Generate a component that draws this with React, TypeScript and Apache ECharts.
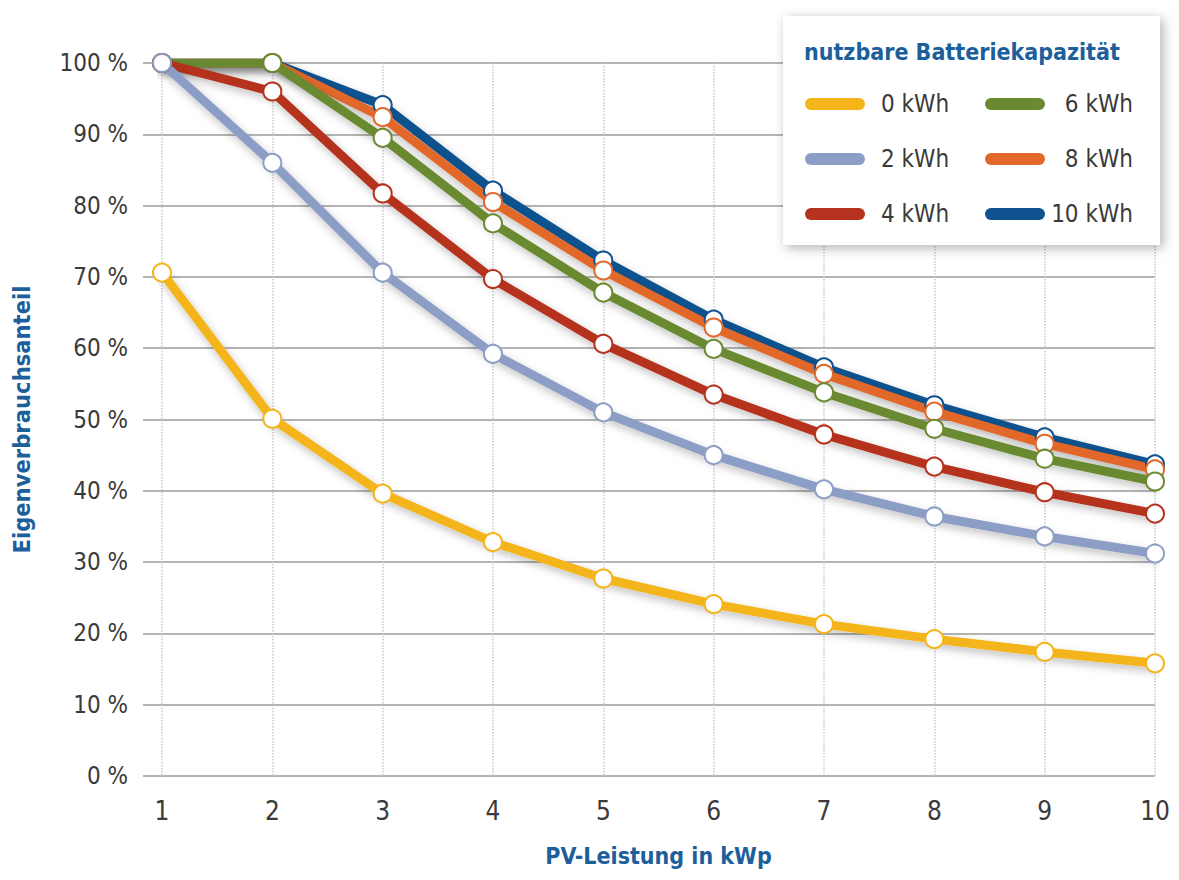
import React, { useEffect, useRef } from "react";
import * as echarts from "echarts";

const pvPower = [1, 2, 3, 4, 5, 6, 7, 8, 9, 10];
const yTicks = [0, 10, 20, 30, 40, 50, 60, 70, 80, 90, 100];

const cap0 = [70.6, 50.1, 39.6, 32.8, 27.7, 24.1, 21.3, 19.2, 17.4, 15.8];
const cap2 = [100, 86, 70.6, 59.2, 51, 45, 40.2, 36.4, 33.6, 31.2];
const cap4 = [100, 96, 81.7, 69.7, 60.6, 53.5, 47.9, 43.4, 39.8, 36.8];
const cap6 = [100, 100, 89.5, 77.5, 67.8, 59.9, 53.8, 48.7, 44.5, 41.3];
const cap8 = [100, 100, 92.4, 80.5, 70.9, 62.9, 56.4, 51.1, 46.6, 43];
const cap10 = [100, 100, 94.1, 82.1, 72.3, 64, 57.3, 52, 47.5, 43.7];

const seriesNames = ["0 kWh", "2 kWh", "4 kWh", "6 kWh", "8 kWh", "10 kWh"];
const seriesValues = [cap0, cap2, cap4, cap6, cap8, cap10];
const seriesColors = ["#f4b41a", "#8d9ec6", "#b5321f", "#6b8a30", "#e2682a", "#0e5290"];

const FONT = "'Liberation Sans Narrow', 'DejaVu Sans Condensed', 'Roboto Condensed', sans-serif";
const BLUE = "#1c5f9b";
const GREY = "#3a3a3a";
const CAPSULE = "path://M6,0 H54 A6,6 0 0 1 54,12 H6 A6,6 0 0 1 6,0 Z";

export default function App() {
  const ref = useRef<HTMLDivElement>(null);
  useEffect(() => {
    document.body.style.margin = "0";
    if (!ref.current) return;
    const chart = echarts.init(ref.current, undefined, { renderer: "svg" });
    const series: any[] = [];
    for (let i = seriesNames.length - 1; i >= 0; i--) {
      series.push({
        name: seriesNames[i],
        type: "line",
        xAxisIndex: 1,
        yAxisIndex: 1,
        data: pvPower.map((x, j) => [x, seriesValues[i][j]]),
        color: seriesColors[i],
        symbol: "circle",
        symbolSize: 18,
        lineStyle: {
          width: 9,
          color: seriesColors[i],
          cap: "round",
          join: "round",
          shadowBlur: 8,
          shadowColor: "rgba(0,0,0,0.25)",
          shadowOffsetY: 4,
          shadowOffsetX: 2,
        },
        itemStyle: { color: "#ffffff", borderColor: seriesColors[i], borderWidth: 2 },
        z: 3,
      });
    }
    const legendItem = (i: number) => ({
      name: seriesNames[i],
      icon: CAPSULE,
      itemStyle: { color: seriesColors[i], borderWidth: 0 },
    });
    const legendCommon = {
      orient: "vertical",
      itemWidth: 60,
      itemHeight: 12,
      itemGap: 25,
      selectedMode: false,
      textStyle: { fontFamily: FONT, fontSize: 24, color: GREY, lineHeight: 30 },
    };
    chart.setOption({
      animation: false,
      backgroundColor: "#ffffff",
      graphic: [
        {
          type: "rect",
          shape: { x: 783, y: 16, width: 377, height: 229 },
          style: {
            fill: "#ffffff",
            shadowBlur: 12,
            shadowColor: "rgba(0,0,0,0.3)",
            shadowOffsetX: 3,
            shadowOffsetY: 3,
          },
          z: 10,
        },
      ],
      title: {
        text: "nutzbare Batteriekapazität",
        left: 799,
        top: 35,
        z: 12,
        textStyle: { fontFamily: FONT, fontSize: 23, fontWeight: "bold", color: BLUE },
      },
      legend: [
        {
          ...legendCommon,
          left: 800,
          top: 84,
          z: 12,
          data: [0, 1, 2].map(legendItem),
          formatter: (n: string) => "{a|" + n + "}",
          textStyle: {
            ...legendCommon.textStyle,
            rich: { a: { padding: [0, 0, 0, 11], fontFamily: FONT, fontSize: 24, color: GREY } },
          },
        },
        {
          ...legendCommon,
          left: 980,
          top: 84,
          z: 12,
          data: [3, 4, 5].map(legendItem),
          formatter: (n: string) => "{a|" + n + "}",
          textStyle: {
            ...legendCommon.textStyle,
            rich: { a: { width: 83, align: "right", fontFamily: FONT, fontSize: 24, color: GREY } },
          },
        },
      ],
      grid: [
        { left: 143, right: 24, top: 63, bottom: 104 },
        { left: 162, right: 24, top: 63, bottom: 104 },
      ],
      xAxis: [
        {
          gridIndex: 0,
          type: "value",
          min: 0,
          max: 1,
          show: false,
        },
        {
          gridIndex: 1,
          type: "value",
          min: pvPower[0],
          max: pvPower[pvPower.length - 1],
          interval: 1,
          axisLine: { show: false },
          axisTick: { show: false },
          axisLabel: { fontFamily: FONT, fontSize: 26, color: GREY, margin: 22 },
          splitLine: { show: true, lineStyle: { type: "dotted", color: "#c8c8c8", width: 1.5 } },
          name: "PV-Leistung in kWp",
          nameLocation: "middle",
          nameGap: 68,
          nameTextStyle: { fontFamily: FONT, fontSize: 23, fontWeight: "bold", color: BLUE },
        },
      ],
      yAxis: [
        {
          gridIndex: 0,
          type: "value",
          min: yTicks[0],
          max: yTicks[yTicks.length - 1],
          interval: 10,
          axisLine: { show: false },
          axisTick: { show: false },
          axisLabel: {
            fontFamily: FONT,
            fontSize: 24,
            color: GREY,
            margin: 15,
            formatter: (v: number) => v + " %",
          },
          splitLine: { show: true, lineStyle: { color: "#b4b4b4", width: 2 } },
          name: "Eigenverbrauchsanteil",
          nameLocation: "middle",
          nameGap: 109,
          nameRotate: 90,
          nameTextStyle: { fontFamily: FONT, fontSize: 23.5, fontWeight: "bold", color: BLUE },
        },
        {
          gridIndex: 1,
          type: "value",
          min: 0,
          max: 100,
          interval: 10,
          show: false,
          splitLine: { show: false },
        },
      ],
      series,
    });
    return () => chart.dispose();
  }, []);
  return <div ref={ref} style={{ width: 1179, height: 880 }} />;
}
